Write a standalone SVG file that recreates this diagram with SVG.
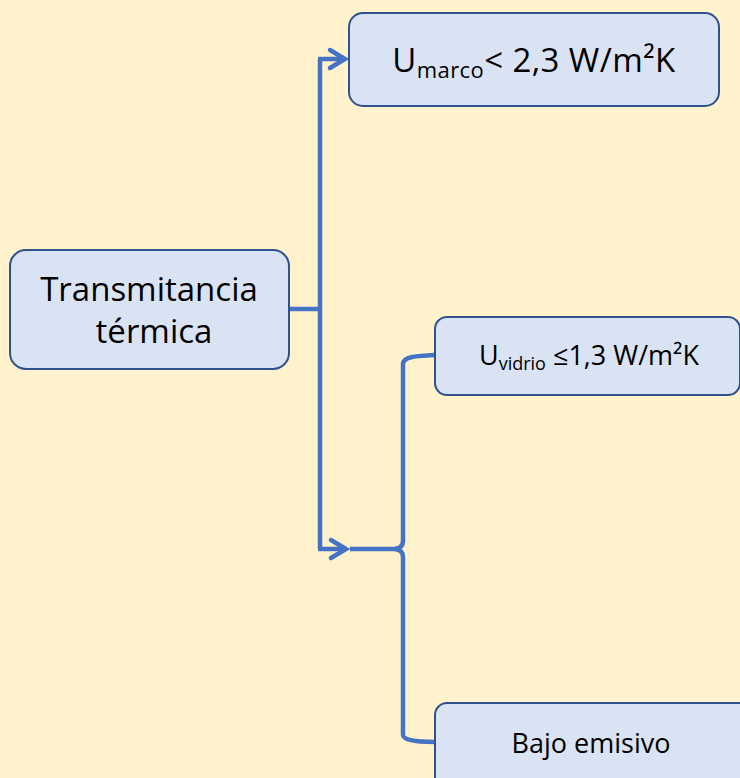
<svg xmlns="http://www.w3.org/2000/svg" width="740" height="778" viewBox="0 0 740 778">
  <style>
    .box { fill: #DAE3F3; stroke: #2F528F; stroke-width: 2; }
    .lbl { font-family: "Open Sans", "Liberation Sans", sans-serif; fill: #000000; }
    .conn { fill: none; stroke: #4472C4; stroke-width: 4.5; stroke-linejoin: miter; }
  </style>
  <defs>
    <marker id="chev" markerUnits="userSpaceOnUse" markerWidth="30" markerHeight="30" viewBox="-20 -15 30 30" refX="0" refY="0" orient="auto">
      <polyline points="-15,-9 0,0 -15,9" fill="none" stroke="#4472C4" stroke-width="4.5" stroke-linecap="round" stroke-linejoin="miter"/>
    </marker>
  </defs>
  <rect x="0" y="0" width="740" height="778" fill="#FFF2CC"/>

  <g id="connectors">
    <path class="conn" d="M289,309 H320"/>
    <path class="conn" d="M320,59 V549"/>
    <path class="conn" d="M318,59 H345" marker-end="url(#chev)"/>
    <path class="conn" d="M318,549 H346" marker-end="url(#chev)"/>
    <path class="conn" d="M350,549 H396"/>
    <path class="conn" d="M435,355 C418,356 403,356 403,364 V541 Q403,548 395,549"/>
    <path class="conn" d="M395,549 Q403,550 403,557 V735 Q403,742 435,742"/>
  </g>

  <g id="node-root">
    <rect class="box" x="10" y="250" width="279" height="119" rx="16"/>
    <text class="lbl" font-size="33" x="149" y="301" text-anchor="middle">Transmitancia</text>
    <text class="lbl" font-size="33" x="154" y="343" text-anchor="middle">térmica</text>
  </g>

  <g id="node-marco">
    <rect class="box" x="349" y="13" width="370" height="93" rx="14"/>
    <text class="lbl" font-size="33" x="534" y="72" text-anchor="middle" letter-spacing="0.4">U<tspan font-size="22" dy="6">marco</tspan><tspan dy="-6">&lt; 2,3 W/m²K</tspan></text>
  </g>

  <g id="node-vidrio">
    <rect class="box" x="435" y="317" width="305" height="78" rx="12"/>
    <text class="lbl" font-size="27" x="589" y="365" text-anchor="middle">U<tspan font-size="18" dy="5">vidrio</tspan><tspan dy="-5"> ≤1,3 W/m²K</tspan></text>
  </g>

  <g id="node-bajo">
    <rect class="box" x="435" y="703" width="320" height="100" rx="12"/>
    <text class="lbl" font-size="27" x="591" y="753" text-anchor="middle">Bajo emisivo</text>
  </g>
</svg>
